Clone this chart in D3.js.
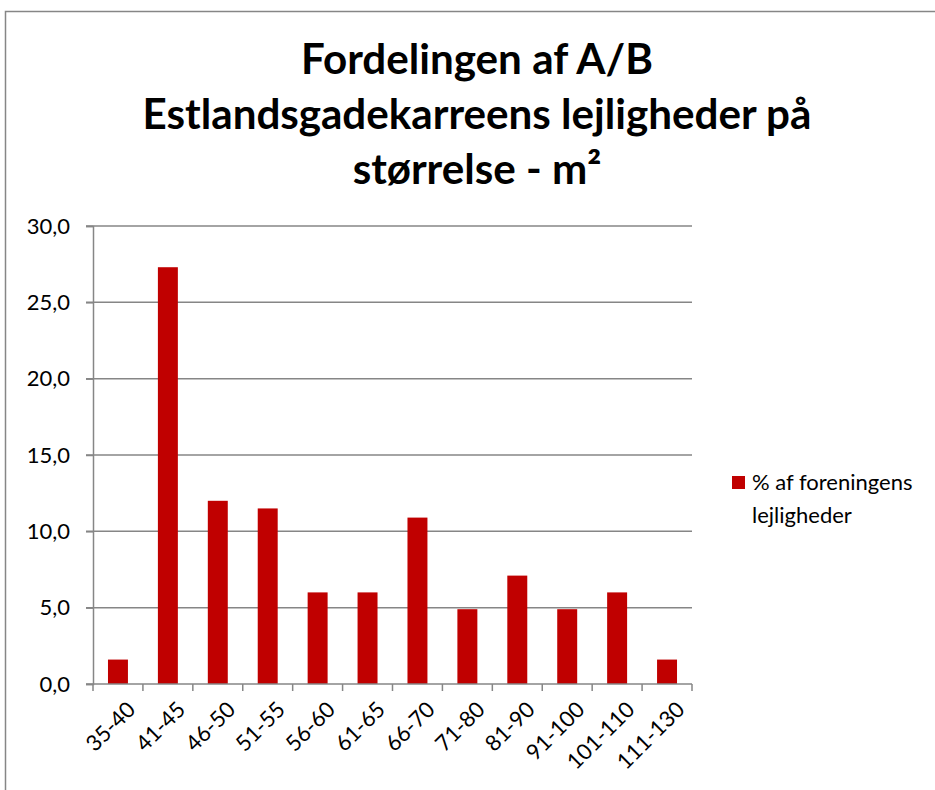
<!DOCTYPE html>
<html>
<head>
<meta charset="utf-8">
<script src="https://cdn.jsdelivr.net/npm/d3@7"></script>
<style>
  body { margin: 0; background: #fff; }
  svg { display: block; font-family: Lato, 'Open Sans', sans-serif; }
</style>
</head>
<body>
<script>
// data
const categories = ['35-40', '41-45', '46-50', '51-55', '56-60', '61-65', '66-70', '71-80', '81-90', '91-100', '101-110', '111-130']
const values = [1.6, 27.3, 12.0, 11.5, 6.0, 6.0, 10.9, 4.9, 7.1, 4.9, 6.0, 1.6]
const yTicks = [0, 5, 10, 15, 20, 25, 30]
const titleLines = ['Fordelingen af A/B', 'Estlandsgadekarreens lejligheder på', 'størrelse - m²']
const seriesName = ['% af foreningens', 'lejligheder']

const width = 935
const height = 790
const margin = { top: 226, right: 243, bottom: 106, left: 93 }
const barColor = '#c00000'
const gridColor = '#868686'
const labelSize = 22

const svg = d3.select('body').append('svg').attr('width', width).attr('height', height)

// chart frame
svg.append('rect')
  .attr('x', 5.5).attr('y', 11.5)
  .attr('width', width + 10).attr('height', height + 10)
  .attr('fill', 'none').attr('stroke', gridColor).attr('stroke-width', 1.5)

const x = d3.scaleBand().domain(categories).range([margin.left, width - margin.right]).paddingInner(0.6).paddingOuter(0.3)
const y = d3.scaleLinear().domain([0, 30]).range([height - margin.bottom, margin.top])

const fmt = (d) => d3.format('.1f')(d).replace('.', ',')

// gridlines
svg.append('g')
  .selectAll('line')
  .data(yTicks.filter((d) => d > 0))
  .join('line')
  .attr('x1', margin.left - 7).attr('x2', width - margin.right)
  .attr('y1', (d) => y(d)).attr('y2', (d) => y(d))
  .attr('stroke', gridColor).attr('stroke-width', 1.5)

// bars
svg.append('g')
  .selectAll('rect')
  .data(values)
  .join('rect')
  .attr('x', (d, i) => x(categories[i]))
  .attr('y', (d) => y(d))
  .attr('width', x.bandwidth())
  .attr('height', (d) => y(0) - y(d))
  .attr('fill', barColor)

// y axis
const yAxis = svg.append('g')
  .attr('transform', `translate(${margin.left},0)`)
  .call(d3.axisLeft(y).tickValues(yTicks).tickFormat(fmt).tickSize(7).tickPadding(16))
yAxis.select('.domain').attr('stroke', gridColor).attr('stroke-width', 1.5)
yAxis.selectAll('.tick line').attr('stroke', gridColor).attr('stroke-width', 1.5)
yAxis.selectAll('text').attr('font-size', labelSize).attr('fill', '#000').attr('font-family', 'Lato, sans-serif')

// x axis: ticks sit between categories
const xEdges = d3.range(categories.length + 1).map((i) => margin.left + i * (width - margin.left - margin.right) / categories.length)
const xAxis = svg.append('g')
xAxis.append('line')
  .attr('x1', margin.left - 7).attr('x2', width - margin.right)
  .attr('y1', y(0)).attr('y2', y(0))
  .attr('stroke', gridColor).attr('stroke-width', 1.5)
xAxis.selectAll('line.tk')
  .data(xEdges)
  .join('line')
  .attr('class', 'tk')
  .attr('x1', (d) => d).attr('x2', (d) => d)
  .attr('y1', y(0)).attr('y2', y(0) + 7)
  .attr('stroke', gridColor).attr('stroke-width', 1.5)

xAxis.selectAll('text')
  .data(categories)
  .join('text')
  .attr('transform', (d) => `translate(${x(d) + x.bandwidth() / 2 + 8},${y(0) + 16}) rotate(-45)`)
  .attr('text-anchor', 'end')
  .attr('dy', '0.7em')
  .attr('font-size', labelSize)
  .attr('fill', '#000')
  .text((d) => d)

// title
const title = svg.append('g')
  .selectAll('text')
  .data(titleLines)
  .join('text')
  .attr('x', 477)
  .attr('y', (d, i) => 74 + i * 55)
  .attr('text-anchor', 'middle')
  .attr('font-size', 37)
  .attr('font-weight', 'bold')
  .attr('fill', '#000')
  .text((d) => d)

// fit the long title line to the reference width
const longW = title.nodes()[1].getComputedTextLength()
title.attr('font-size', 37 * 669 / longW)

// legend
const legend = svg.append('g').attr('transform', 'translate(732,476)')
legend.append('rect').attr('width', 13).attr('height', 13).attr('fill', barColor)
legend.selectAll('text')
  .data(seriesName)
  .join('text')
  .attr('x', 20)
  .attr('y', (d, i) => 14 + i * 33)
  .attr('font-size', labelSize)
  .attr('fill', '#000')
  .text((d) => d)
</script>
</body>
</html>
